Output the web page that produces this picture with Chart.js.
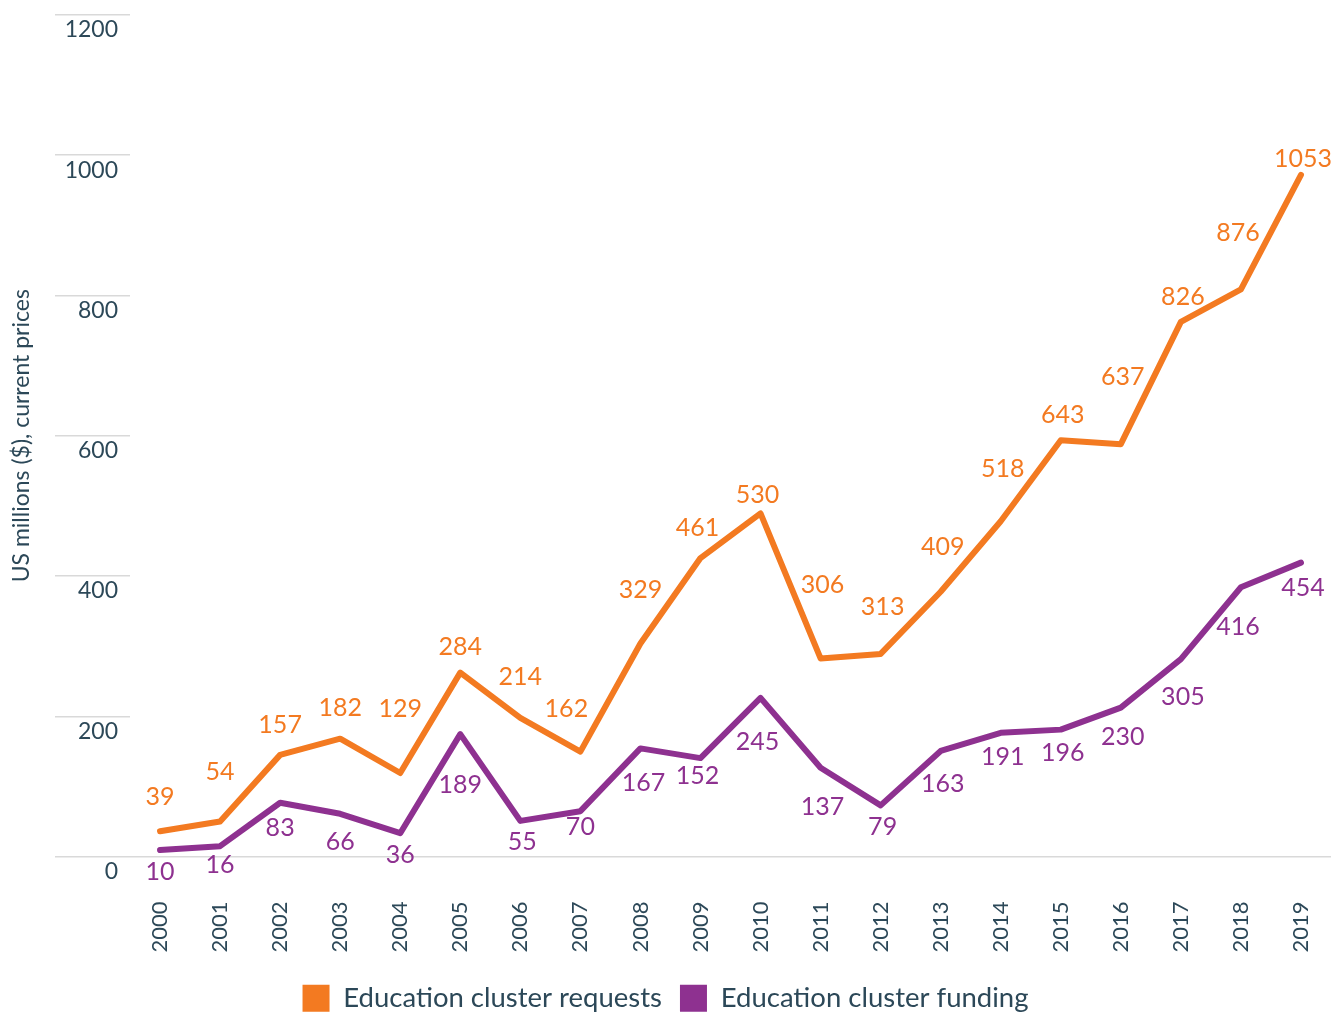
<!DOCTYPE html>
<html>
<head>
<meta charset="utf-8">
<title>Education cluster requests and funding</title>
<script src="https://cdn.jsdelivr.net/npm/chart.js@4.4.1/dist/chart.umd.min.js"></script>
<style>
  html, body { margin: 0; padding: 0; background: #fff; overflow: hidden; }
  #wrap { position: relative; width: 1333px; height: 1022px; }
</style>
</head>
<body>
<div id="wrap"><canvas id="chart"></canvas></div>
<script>
const years = ['2000', '2001', '2002', '2003', '2004', '2005', '2006', '2007', '2008', '2009',
               '2010', '2011', '2012', '2013', '2014', '2015', '2016', '2017', '2018', '2019'];
const requests = [39, 54, 157, 182, 129, 284, 214, 162, 329, 461, 530, 306, 313, 409, 518, 643, 637, 826, 876, 1053];
const funding = [10, 16, 83, 66, 36, 189, 55, 70, 167, 152, 245, 137, 79, 163, 191, 196, 230, 305, 416, 454];
const yTicks = [0, 200, 400, 600, 800, 1000, 1200];

// label nudges (px, relative to each point) - hand placed in the original
const requestLabelDy = [-34, -50, -30, -31, -64, -26, -41, -43, -54, -30, -18, -73, -47, -45, -52, -25, -67, -25, -57, -16];
const requestLabelDx = [0, 0, 0, 0, 0, 0, 0, -14, 0, -3, -3, 2, 2, 2, 2, 2, 2, 2, -3, 2];
const fundingLabelDy = [22, 19, 25, 28, 22, 51, 21, 16, 35, 18, 44, 39, 22, 33, 24, 23, 29, 38, 40, 25];
const fundingLabelDx = [0, 0, 0, 0, 0, 0, 2, 0, 3, -3, -3, 2, 2, 2, 2, 2, 2, 2, -3, 2];

const ORANGE = '#F37A21';
const PURPLE = '#8E3190';
const TEXT = '#2C4858';
const FONT = 'Lato, "Open Sans", sans-serif';

const valueLabels = {
  id: 'valueLabels',
  afterDatasetsDraw(chart) {
    const ctx = chart.ctx;
    const nudges = [[requestLabelDx, requestLabelDy], [fundingLabelDx, fundingLabelDy]];
    ctx.save();
    ctx.font = '25px ' + FONT;
    ctx.textAlign = 'center';
    ctx.textBaseline = 'middle';
    chart.data.datasets.forEach((ds, di) => {
      const meta = chart.getDatasetMeta(di);
      ctx.fillStyle = ds.borderColor;
      meta.data.forEach((pt, i) => {
        ctx.fillText(String(ds.data[i]), pt.x + nudges[di][0][i], pt.y + nudges[di][1][i]);
      });
    });
    ctx.restore();
  }
};

new Chart(document.getElementById('chart'), {
  type: 'line',
  data: {
    labels: years,
    datasets: [
      {
        label: 'Education cluster requests',
        data: requests,
        borderColor: ORANGE,
        backgroundColor: ORANGE,
        borderWidth: 6,
        pointRadius: 0,
        tension: 0,
        borderJoinStyle: 'round',
        borderCapStyle: 'round'
      },
      {
        label: 'Education cluster funding',
        data: funding,
        borderColor: PURPLE,
        backgroundColor: PURPLE,
        borderWidth: 6,
        pointRadius: 0,
        tension: 0,
        borderJoinStyle: 'round',
        borderCapStyle: 'round'
      }
    ]
  },
  options: {
    responsive: true,
    maintainAspectRatio: false,
    animation: false,
    layout: { padding: { top: 15, right: 2, left: 0, bottom: 0 } },
    plugins: {
      tooltip: { enabled: false },
      legend: {
        position: 'bottom',
        labels: {
          color: TEXT,
          font: { family: FONT, size: 27.5 },
          boxWidth: 27,
          boxHeight: 27,
          padding: 18,
          generateLabels: (chart) =>
            Chart.defaults.plugins.legend.labels.generateLabels(chart).map(l => ({ ...l, lineWidth: 0 }))
        }
      }
    },
    scales: {
      x: {
        type: 'category',
        offset: true,
        grid: { display: false, drawTicks: false },
        border: { display: false },
        ticks: {
          color: TEXT,
          font: { family: FONT, size: 22 },
          minRotation: 90,
          maxRotation: 90,
          padding: 45,
          autoSkip: false
        },
        afterFit: (scale) => {
          scale.height = 110;
          scale.paddingRight = 0;
        }
      },
      // the plotted series sit on their own (hidden) scale, as in the original
      y: {
        display: false,
        min: 0,
        max: 1300
      },
      yv: {
        type: 'linear',
        position: 'left',
        min: 0,
        max: 1200,
        border: { display: false },
        grid: {
          tickLength: 75,
          tickColor: '#d9d9d9',
          color: (c) => (c.tick && c.tick.value === 0 ? '#d9d9d9' : 'rgba(0,0,0,0)'),
          lineWidth: 1.5
        },
        afterBuildTicks: (scale) => { scale.ticks = yTicks.map(v => ({ value: v })); },
        ticks: {
          color: TEXT,
          font: { family: FONT, size: 23 },
          labelOffset: 15,
          padding: -63,
          callback: (v) => String(v)
        },
        title: {
          display: true,
          text: 'US millions ($), current prices',
          color: TEXT,
          font: { family: FONT, size: 23 },
          padding: { top: 8, bottom: 0 }
        },
        afterFit: (scale) => { scale.width = 130; }
      }
    }
  },
  plugins: [valueLabels]
});
</script>
</body>
</html>
